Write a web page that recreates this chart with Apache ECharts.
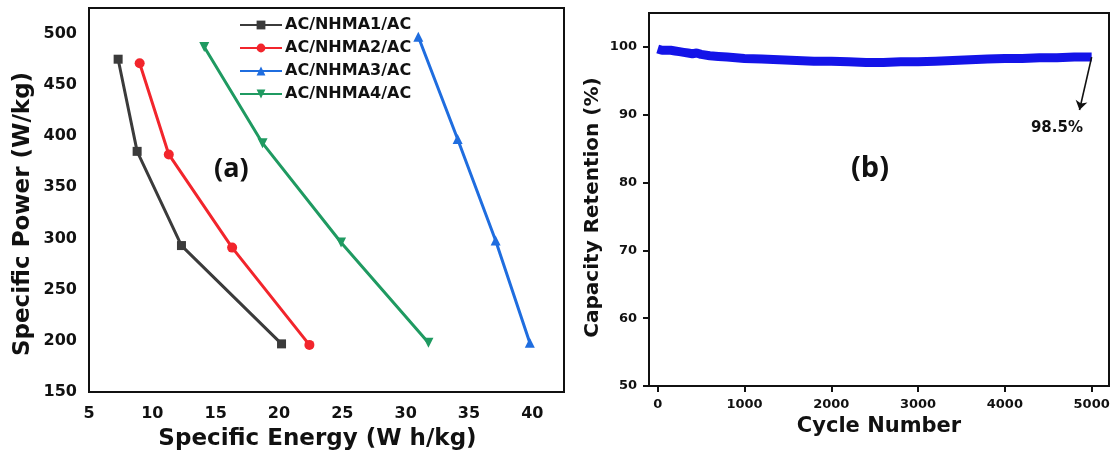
<!DOCTYPE html>
<html>
<head>
<meta charset="utf-8">
<style>
  html, body { margin: 0; padding: 0; background: #fff; }
  #chart { width: 1118px; height: 463px; }
</style>
<script src="https://cdn.jsdelivr.net/npm/echarts@6/dist/echarts.min.js"></script>
</head>
<body>
<div id="chart"></div>
<script>
// Ragone plot: specific energy (W h/kg) vs specific power (W/kg)
const seriesNames = ['AC/NHMA1/AC', 'AC/NHMA2/AC', 'AC/NHMA3/AC', 'AC/NHMA4/AC'];
const energy1 = [7.3, 8.8, 12.3, 20.2];
const power1  = [475, 385, 293, 197];
const energy2 = [9.0, 11.3, 16.3, 22.4];
const power2  = [471, 382, 291, 196];
const energy3 = [31.0, 34.1, 37.1, 39.8];
const power3  = [497, 397, 298, 198];
const energy4 = [14.1, 18.7, 24.9, 31.8];
const power4  = [487, 393, 296, 198];

const energyTicks = [5, 10, 15, 20, 25, 30, 35, 40];
const powerTicks  = [150, 200, 250, 300, 350, 400, 450, 500];

// Cycling stability: capacity retention vs cycle number
const cycles = [0, 50, 100, 150, 200, 250, 300, 350, 400, 450, 500, 600, 700, 800, 900, 1000,
  1200, 1400, 1600, 1800, 2000, 2200, 2400, 2600, 2800, 3000, 3200, 3400, 3600, 3800, 4000,
  4200, 4400, 4600, 4800, 5000];
const retention = [99.7, 99.5, 99.5, 99.5, 99.4, 99.3, 99.2, 99.1, 99.0, 99.1, 98.9, 98.7, 98.6, 98.5, 98.4, 98.3,
  98.2, 98.1, 98.0, 97.9, 97.9, 97.8, 97.7, 97.7, 97.8, 97.8, 97.9, 98.0, 98.1, 98.2, 98.3,
  98.3, 98.4, 98.4, 98.5, 98.5];
const finalRetention = 98.5;
const cycleTicks = [0, 1000, 2000, 3000, 4000, 5000];
const retentionTicks = [50, 60, 70, 80, 90, 100];

const FONT = 'DejaVu Sans';
const pairs = (xs, ys) => xs.map((x, i) => [x, ys[i]]);
const plain = (v) => String(v);

const ragoneColors = ['#3b3b3b', '#f2252c', '#1f6ddf', '#1f9a61'];
const ragoneSymbols = ['rect', 'circle', 'triangle', 'path://M0,0 L10,0 L5,9 Z'];
const ragoneData = [
  pairs(energy1, power1), pairs(energy2, power2),
  pairs(energy3, power3), pairs(energy4, power4)
];

const chart = echarts.init(document.getElementById('chart'), null, { renderer: 'canvas' });

const frame = { show: true, borderColor: '#111', borderWidth: 2, backgroundColor: 'transparent' };

const option = {
  animation: false,
  backgroundColor: '#fff',
  textStyle: { fontFamily: FONT },
  grid: [
    Object.assign({ left: 89, top: 8, width: 475, height: 384 }, frame),
    Object.assign({ left: 649, top: 13, width: 460, height: 373 }, frame)
  ],
  legend: {
    orient: 'vertical',
    left: 234,
    top: 12,
    itemWidth: 42,
    itemHeight: 11,
    itemGap: 7,
    data: seriesNames,
    textStyle: { fontFamily: FONT, fontWeight: 'bold', fontSize: 16, color: '#111', padding: [0, 0, 0, -2] }
  },
  xAxis: [
    {
      gridIndex: 0, type: 'value', min: 5, max: 42.5,
      splitLine: { show: false },
      axisLine: { show: true, onZero: false, lineStyle: { color: '#111', width: 2 } },
      axisTick: { show: false },
      axisLabel: {
        customValues: energyTicks, margin: 14, formatter: plain,
        fontFamily: FONT, fontWeight: 'bold', fontSize: 16, color: '#111'
      },
      name: 'Specific Energy (W h/kg)', nameLocation: 'middle', nameGap: 36,
      nameTextStyle: { fontFamily: FONT, fontWeight: 'bold', fontSize: 23, color: '#111', padding: [0, 18, 0, 0] }
    },
    {
      gridIndex: 1, type: 'value', min: -100, max: 5200,
      splitLine: { show: false },
      axisLine: { show: true, onZero: false, lineStyle: { color: '#111', width: 2 } },
      axisTick: { show: true, customValues: cycleTicks, length: 6, lineStyle: { color: '#111', width: 2 } },
      axisLabel: {
        customValues: cycleTicks, margin: 12, formatter: plain,
        fontFamily: FONT, fontWeight: 'bold', fontSize: 13, color: '#111'
      },
      name: 'Cycle Number', nameLocation: 'middle', nameGap: 28,
      nameTextStyle: { fontFamily: FONT, fontWeight: 'bold', fontSize: 21, color: '#111' }
    }
  ],
  yAxis: [
    {
      gridIndex: 0, type: 'value', min: 150, max: 525,
      splitLine: { show: false },
      axisLine: { show: true, onZero: false, lineStyle: { color: '#111', width: 2 } },
      axisTick: { show: false },
      axisLabel: {
        customValues: powerTicks, margin: 12, formatter: plain,
        fontFamily: FONT, fontWeight: 'bold', fontSize: 16, color: '#111'
      },
      name: 'Specific Power (W/kg)', nameLocation: 'middle', nameGap: 54,
      nameTextStyle: { fontFamily: FONT, fontWeight: 'bold', fontSize: 23, color: '#111', padding: [0, 28, 0, 0] }
    },
    {
      gridIndex: 1, type: 'value', min: 50, max: 105,
      splitLine: { show: false },
      axisLine: { show: true, onZero: false, lineStyle: { color: '#111', width: 2 } },
      axisTick: { show: true, customValues: retentionTicks, length: 6, lineStyle: { color: '#111', width: 2 } },
      axisLabel: {
        customValues: retentionTicks, margin: 12, formatter: plain,
        fontFamily: FONT, fontWeight: 'bold', fontSize: 13, color: '#111'
      },
      name: 'Capacity Retention (%)', nameLocation: 'middle', nameGap: 46,
      nameTextStyle: { fontFamily: FONT, fontWeight: 'bold', fontSize: 20, color: '#111', padding: [0, 16, 0, 0] }
    }
  ],
  graphic: [
    {
      type: 'text', left: 214, top: 156,
      style: { text: '(a)', font: 'bold 27px "Open Sans"', fill: '#111' }
    },
    {
      type: 'text', left: 851, top: 154,
      style: { text: '(b)', font: 'bold 29px "Open Sans"', fill: '#111' }
    }
  ],
  series: ragoneData.map((d, i) => ({
    name: seriesNames[i],
    type: 'line',
    xAxisIndex: 0, yAxisIndex: 0,
    data: d,
    symbol: ragoneSymbols[i],
    symbolSize: i === 0 ? 9 : 10,
    showAllSymbol: true,
    itemStyle: { color: ragoneColors[i] },
    lineStyle: { color: ragoneColors[i], width: 3 },
    z: 3
  })).concat([
    {
      name: 'retention',
      type: 'line',
      xAxisIndex: 1, yAxisIndex: 1,
      data: pairs(cycles, retention),
      showSymbol: false,
      lineStyle: { color: '#1414e8', width: 9 },
      itemStyle: { color: '#1414e8' },
      markLine: {
        silent: true,
        symbol: ['none', 'arrow'],
        symbolSize: 9,
        label: { show: false },
        lineStyle: { color: '#111', width: 1.6, type: 'solid' },
        itemStyle: { color: '#111' },
        data: [[{ coord: [5000, finalRetention] }, { coord: [4860, 90.7] }]]
      },
      markPoint: {
        silent: true,
        symbol: 'circle',
        symbolSize: 0,
        label: {
          show: true, position: 'inside',
          formatter: finalRetention.toFixed(1) + '%',
          fontFamily: FONT, fontWeight: 'bold', fontSize: 15, color: '#111'
        },
        data: [{ coord: [4600, 88.05] }]
      }
    }
  ])
};

chart.setOption(option);
</script>
</body>
</html>
